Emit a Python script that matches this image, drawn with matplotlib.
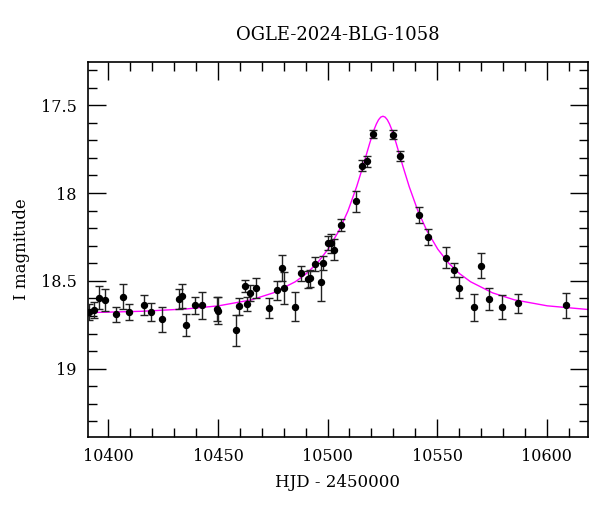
import numpy as np
import matplotlib
matplotlib.use("Agg")
import matplotlib.pyplot as plt
from matplotlib.ticker import MultipleLocator

# photometry: HJD-2450000, I mag, error
hjd = [10391.1, 10393.5, 10395.7, 10398.4, 10403.4, 10406.5, 10409.4, 10416.3,
       10419.4, 10424.3, 10432.3, 10433.6, 10435.4, 10439.4, 10442.5, 10449.4,
       10450.2, 10458.1, 10459.4, 10462.2, 10463.1, 10464.4, 10467.4, 10473.2,
       10477.1, 10479.1, 10480.0, 10485.3, 10487.9, 10491.0, 10492.1, 10494.2,
       10496.9, 10498.1, 10500.1, 10501.6, 10503.1, 10506.0, 10513.0, 10515.9,
       10517.9, 10520.9, 10529.9, 10533.0, 10541.9, 10546.0, 10554.0, 10557.9,
       10560.0, 10566.8, 10569.9, 10573.8, 10579.7, 10586.8, 10608.7]
mag = [18.677, 18.667, 18.595, 18.609, 18.690, 18.590, 18.677, 18.637,
       18.675, 18.719, 18.605, 18.586, 18.751, 18.640, 18.640, 18.661,
       18.670, 18.781, 18.644, 18.530, 18.631, 18.570, 18.540, 18.653,
       18.554, 18.427, 18.538, 18.647, 18.456, 18.490, 18.485, 18.406,
       18.506, 18.397, 18.285, 18.287, 18.323, 18.182, 18.047, 17.844,
       17.820, 17.662, 17.667, 17.790, 18.124, 18.250, 18.367, 18.437,
       18.538, 18.650, 18.413, 18.602, 18.647, 18.627, 18.640]
err = [0.048, 0.045, 0.067, 0.063, 0.042, 0.071, 0.046, 0.059,
       0.051, 0.071, 0.057, 0.067, 0.062, 0.046, 0.079, 0.067,
       0.078, 0.087, 0.048, 0.035, 0.042, 0.044, 0.059, 0.057,
       0.055, 0.072, 0.091, 0.081, 0.042, 0.048, 0.048, 0.040,
       0.110, 0.040, 0.042, 0.052, 0.059, 0.035, 0.060, 0.030,
       0.030, 0.023, 0.027, 0.027, 0.046, 0.046, 0.059, 0.040,
       0.059, 0.078, 0.071, 0.063, 0.069, 0.054, 0.073]

# model curve, sampled off the plot
model_t = [10390.3, 10415.3, 10435.3, 10450.3, 10465.3, 10475.3, 10485.3, 10490.3,
           10495.3, 10500.3, 10505.3, 10509.3, 10513.3, 10516.3, 10517.3, 10519.3,
           10521.3, 10522.3, 10523.3, 10524.3, 10525.3, 10526.3, 10527.3, 10528.3,
           10529.3, 10531.3, 10533.3, 10534.3, 10537.3, 10541.3, 10545.3, 10550.3,
           10555.3, 10560.3, 10565.3, 10575.3, 10585.3, 10600.3, 10619.0]
model_m = [18.681, 18.673, 18.660, 18.642, 18.608, 18.568, 18.505, 18.459,
           18.399, 18.319, 18.213, 18.103, 17.964, 17.843, 17.800, 17.715,
           17.638, 17.607, 17.583, 17.568, 17.563, 17.568, 17.583, 17.607,
           17.638, 17.715, 17.800, 17.843, 17.964, 18.103, 18.213, 18.319,
           18.399, 18.459, 18.505, 18.568, 18.608, 18.642, 18.663]

plt.rcParams['font.family'] = 'DejaVu Serif'

fig = plt.figure(figsize=(6, 5.12), dpi=100)
ax = fig.add_axes([0.146, 0.146, 0.834, 0.733])

ax.plot(model_t, model_m, color='#ff00ff', lw=1.0, zorder=2)
ax.errorbar(hjd, mag, yerr=err, fmt='o', color='black', ms=4.3,
            ecolor='#222222', elinewidth=1.0, capsize=3, capthick=1.0, zorder=3)

ax.set_xlim(10390.5, 10618.9)
ax.set_ylim(19.39, 17.254)

ax.xaxis.set_major_locator(MultipleLocator(50))
ax.xaxis.set_minor_locator(MultipleLocator(10))
ax.yaxis.set_major_locator(MultipleLocator(0.5))
ax.yaxis.set_minor_locator(MultipleLocator(0.1))
ax.yaxis.set_major_formatter(plt.FuncFormatter(lambda v, p: f"{v:g}"))

ax.tick_params(which='both', direction='in', top=True, right=True, width=1.0,
               labelsize=11.5, pad=8)
ax.tick_params(which='major', length=13)
ax.tick_params(which='minor', length=6.5)
for s in ax.spines.values():
    s.set_linewidth(1.2)

ax.set_title("OGLE-2024-BLG-1058", fontsize=13, pad=16)
ax.set_xlabel("HJD - 2450000", fontsize=12, labelpad=6)
ax.set_ylabel("I magnitude", fontsize=12, labelpad=8)

fig.savefig("out.png", dpi=100)
